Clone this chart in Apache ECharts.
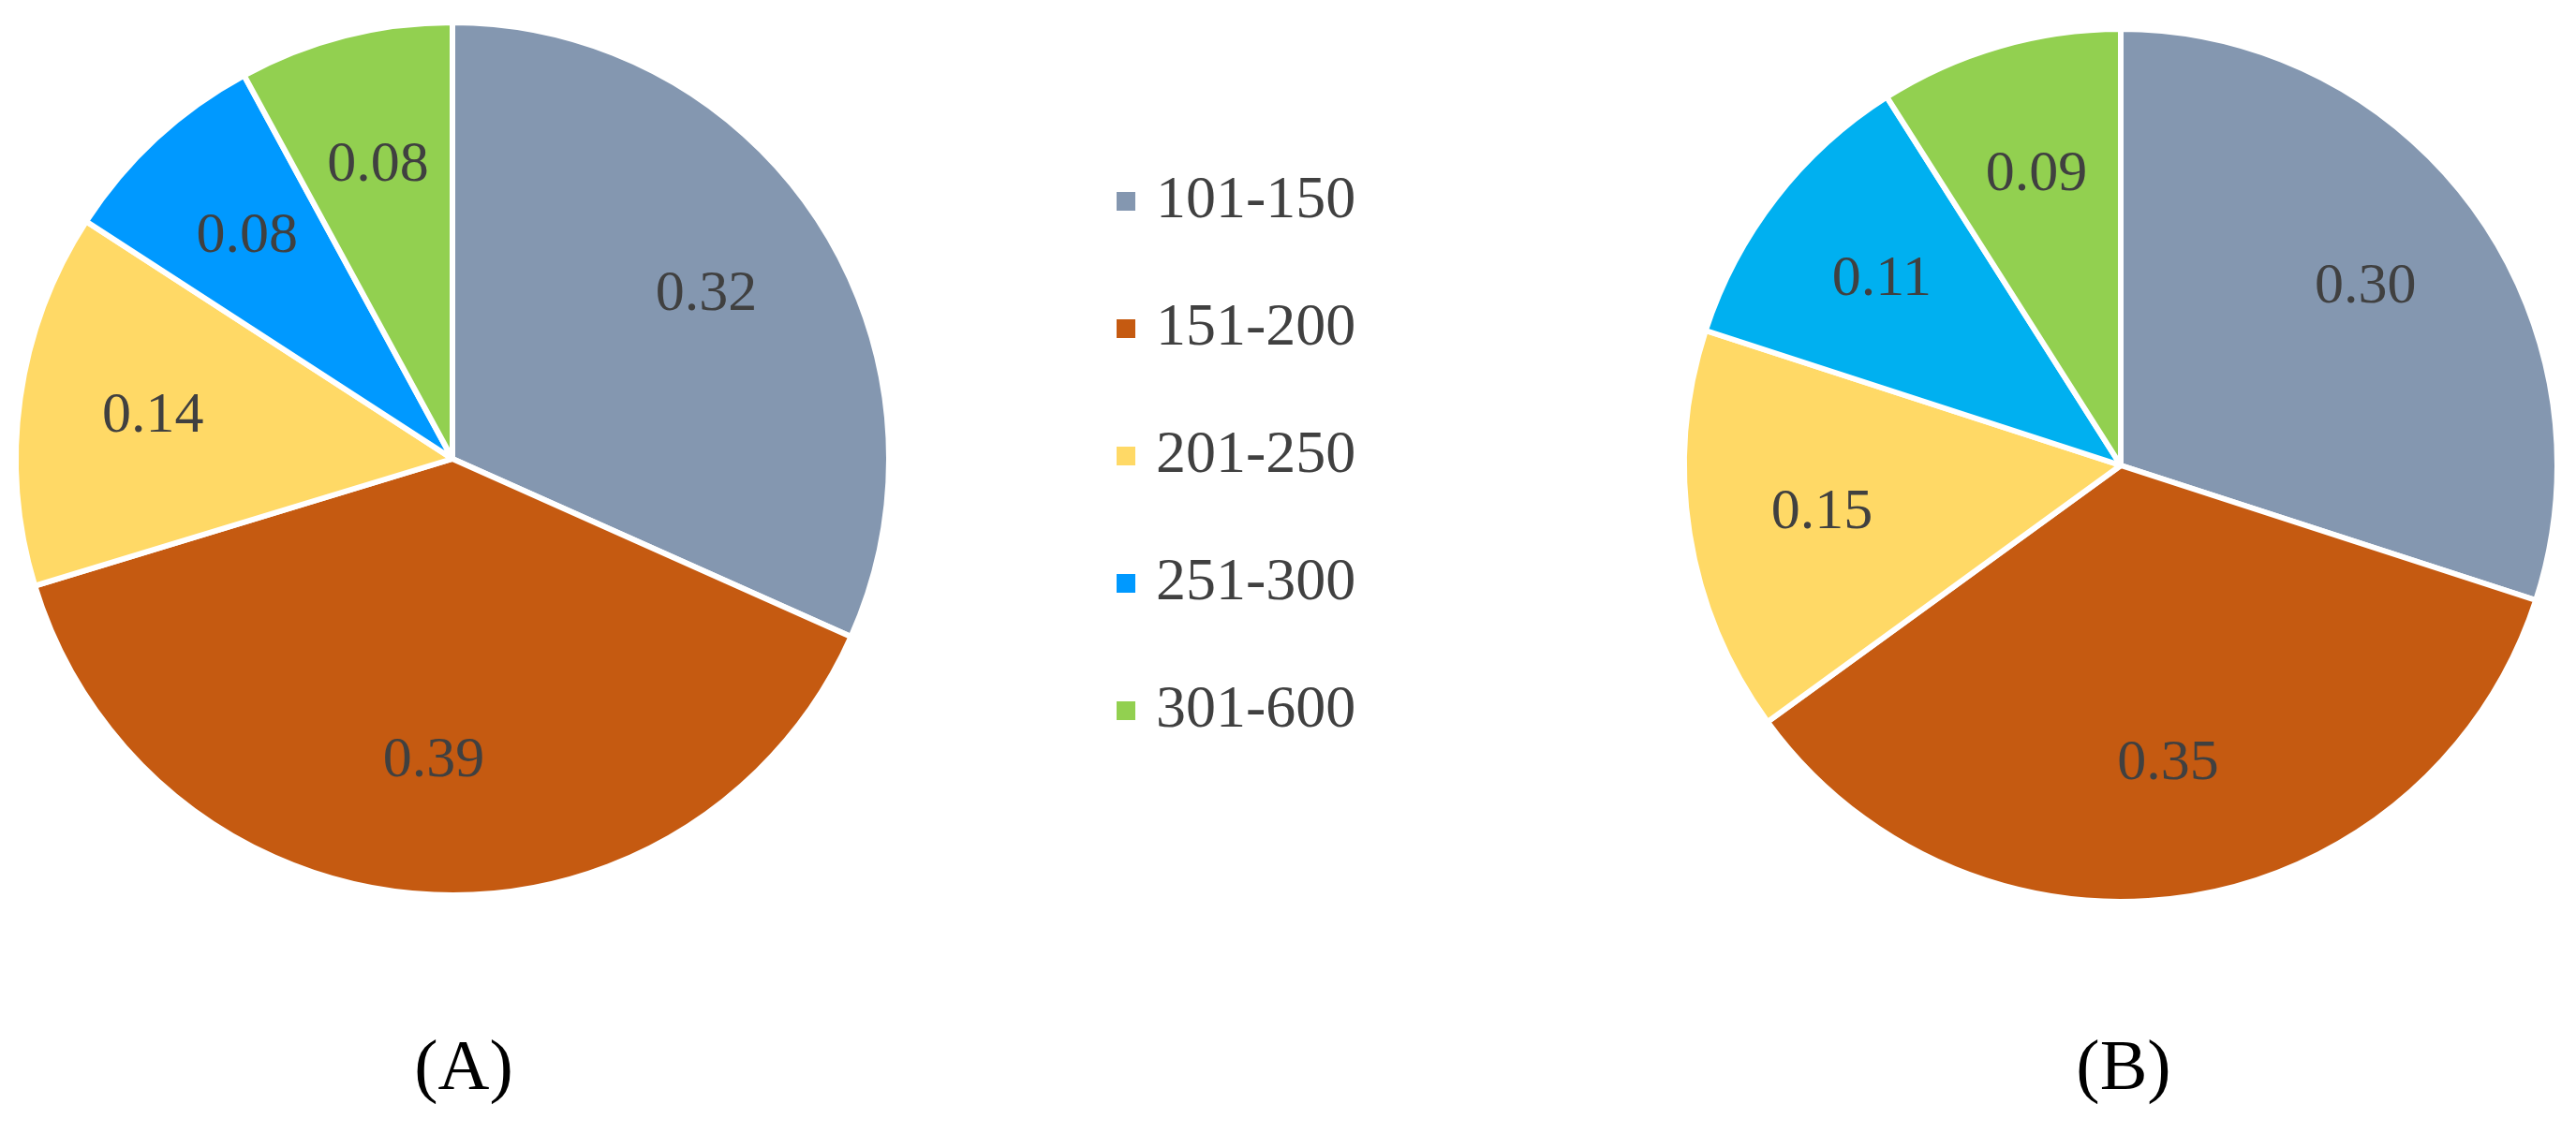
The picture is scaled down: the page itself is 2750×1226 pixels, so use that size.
<!DOCTYPE html>
<html>
<head>
<meta charset="utf-8">
<script src="https://cdn.jsdelivr.net/npm/echarts@6/dist/echarts.min.js"></script>
<style>html,body{margin:0;background:#fff}#main{width:2750px;height:1226px}</style>
</head>
<body>
<div id="main"></div>
<script>
// categories and shares
var categories = ['101-150', '151-200', '201-250', '251-300', '301-600'];
var valuesA = [0.32, 0.39, 0.14, 0.08, 0.08];
var valuesB = [0.30, 0.35, 0.15, 0.11, 0.09];
var colorsA = ['#8497B0', '#C55A11', '#FFD966', '#0099FF', '#92D050'];
var colorsB = ['#8497B0', '#C55A11', '#FFD966', '#00B0F0', '#92D050'];

var font = 'Liberation Serif';

function toData(vals, colors) {
	return vals.map(function (v, i) {
		return { name: categories[i], value: v, itemStyle: { color: colors[i] } };
	});
}

// visible pie, no labels
function pie(center, vals, colors) {
	return {
		type: 'pie',
		center: center,
		radius: [0, 466],
		startAngle: 90,
		clockwise: true,
		animation: false,
		itemStyle: { borderColor: '#fff', borderWidth: 6 },
		label: { show: false },
		labelLine: { show: false },
		data: toData(vals, colors)
	};
}

// invisible pie carrying the labels, so they sit further out than the midpoint
function labels(center, vals) {
	return {
		type: 'pie',
		center: center,
		radius: [0, 640],
		startAngle: 90,
		clockwise: true,
		animation: false,
		silent: true,
		itemStyle: { color: 'rgba(0,0,0,0)' },
		label: {
			position: 'inside',
			formatter: function (p) { return p.value.toFixed(2); },
			color: '#404040',
			fontFamily: font,
			fontSize: 62
		},
		labelLine: { show: false },
		data: vals.map(function (v, i) { return { name: categories[i], value: v }; })
	};
}

var myChart = echarts.init(document.getElementById('main'));
myChart.setOption({
	legend: {
		orient: 'vertical',
		left: 1185,
		top: 178,
		itemWidth: 22,
		itemHeight: 22,
		itemGap: 72,
		icon: 'rect',
		data: categories.map(function (c, i) { return { name: c, itemStyle: { color: colorsA[i] } }; }),
		textStyle: { fontFamily: font, fontSize: 64, color: '#404040', padding: [0, 0, 0, 16] }
	},
	title: [
		{ text: '(A)', left: 490, top: 1100, textAlign: 'center', textStyle: { fontFamily: font, fontSize: 76, fontWeight: 'normal', color: '#000' } },
		{ text: '(B)', left: 2262, top: 1100, textAlign: 'center', textStyle: { fontFamily: font, fontSize: 76, fontWeight: 'normal', color: '#000' } }
	],
	series: [
		pie([483, 490], valuesA, colorsA),
		pie([2264, 497], valuesB, colorsB),
		labels([483, 490], valuesA),
		labels([2264, 497], valuesB)
	]
});
</script>
</body>
</html>
